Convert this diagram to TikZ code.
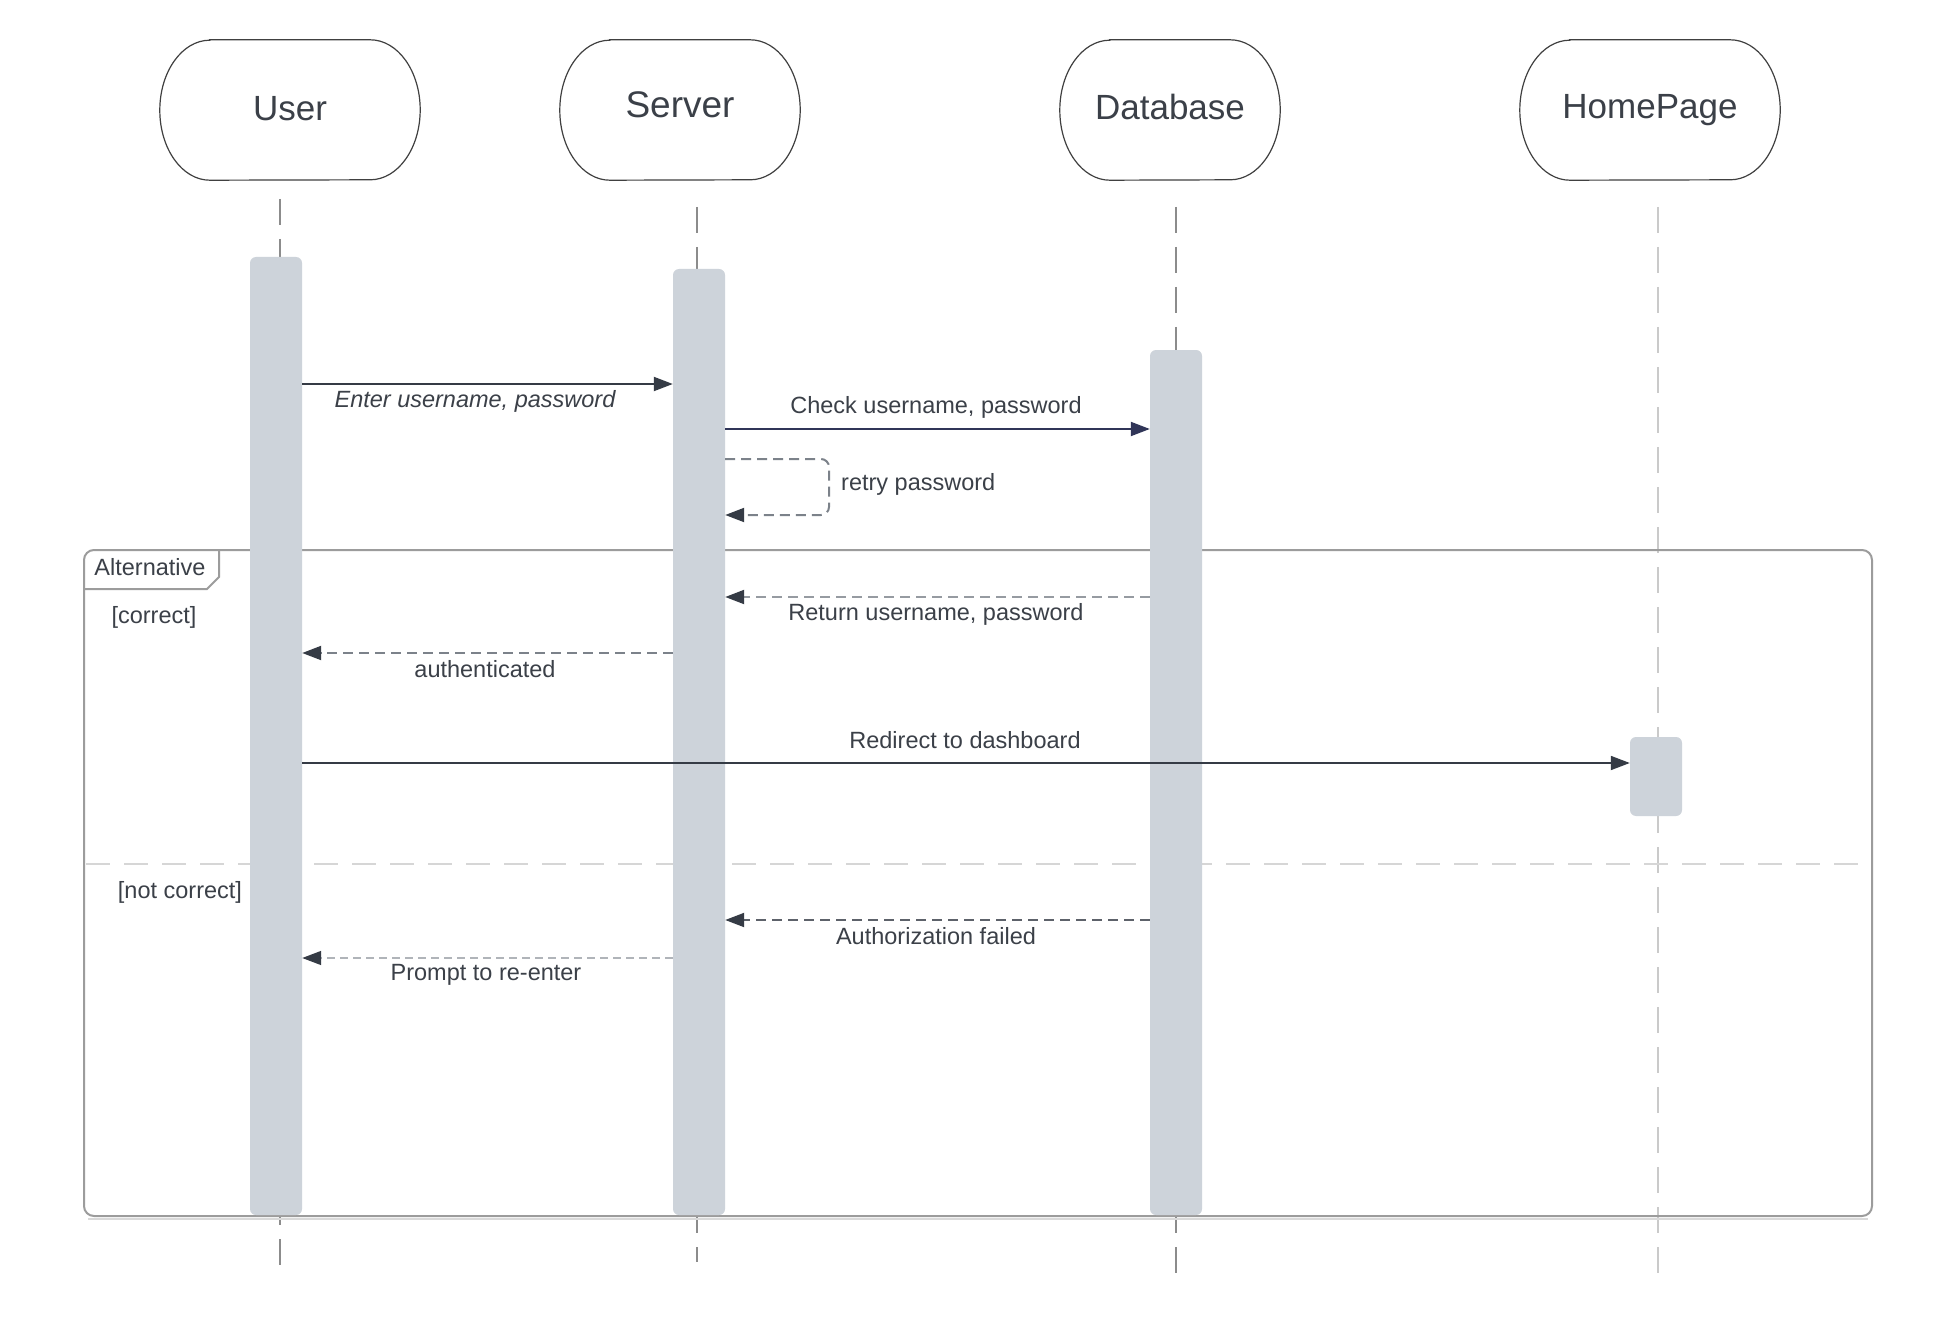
\documentclass[tikz,border=0pt]{standalone}
\usepackage{fontspec}
\setmainfont{Liberation Sans}
\usetikzlibrary{arrows.meta}
\definecolor{txt}{HTML}{3B4048}
\definecolor{barc}{HTML}{CDD3DA}
\definecolor{arrc}{HTML}{353B45}
\definecolor{dashc}{HTML}{7C828A}
\definecolor{framec}{HTML}{9C9C9C}
\definecolor{lifec}{HTML}{8C8C8C}
\definecolor{lifelight}{HTML}{CACACA}
\definecolor{divc}{HTML}{D6D6D6}
\begin{document}
\begin{tikzpicture}[x=1pt,y=-1pt,
  actor/.style={draw=none, minimum width=#1, minimum height=140pt, inner sep=0pt,
    text=txt, font=\fontsize{35}{40}\selectfont},
  actorline/.style={draw=black!75, line width=1.2pt},
  bar/.style={fill=barc, draw=none, rounded corners=6pt, minimum width=52pt, inner sep=0pt},
  lifeline/.style={draw=lifec, line width=2pt, dash pattern=on 26pt off 14pt},
  msgtxt/.style={text=txt, font=\fontsize{23.5}{27}\selectfont, inner sep=0pt},
  msg/.style={draw=arrc, line width=2pt, -{Triangle[length=19pt,width=14pt]}},
  reply/.style={draw=dashc, line width=2pt, dash pattern=on 10pt off 6pt,
    -{Triangle[length=19pt,width=14pt,color=arrc]}},
  framebox/.style={draw=framec, line width=2pt},
]
\useasboundingbox (0,0) rectangle (1960,1332);
\fill[white] (0,0) rectangle (1960,1332);

% actors
\node[actor=260pt] (user)   at (290,110) {\raisebox{4pt}{User}};
\node[actor=240pt] (server) at (680,110) {\fontsize{37}{42}\selectfont\raisebox{10pt}{Server}};
\node[actor=220pt] (db)     at (1170,110) {\raisebox{6pt}{Database}};
\node[actor=260pt] (home)   at (1650,110) {\raisebox{3pt}{HomePage}};
\foreach \n in {user,server,db,home}{
  \draw[actorline] ([xshift=50pt]\n.north west) -- ([xshift=-50pt]\n.north east)
    arc[start angle=90,end angle=-90,x radius=50pt,y radius=70pt]
    -- ([xshift=50pt]\n.south west)
    arc[start angle=270,end angle=90,x radius=50pt,y radius=70pt] -- cycle;
}

% lifelines
\coordinate (ul0) at (280,199);  \coordinate (ul1) at (280,1275);
\coordinate (sl0) at (697,207);  \coordinate (sl1) at (697,1262);
\coordinate (dl0) at (1176,207); \coordinate (dl1) at (1176,1275);
\coordinate (hl0) at (1658,207); \coordinate (hl1) at (1658,1275);
\draw[lifeline] (ul0) -- (ul1);
\draw[lifeline] (sl0) -- (sl1);
\draw[lifeline] (dl0) -- (dl1);
\draw[lifeline, draw=lifelight] (hl0) -- (hl1);

% alternative frame
\draw[framebox, rounded corners=10pt] (84,550) rectangle (1872,1216);
\draw[draw=black!15, line width=2pt, rounded corners=10pt] (88,1219) -- (1868,1219);
\draw[framebox] (219,551) -- (219,577) -- (207,589) -- (85,589);
\node[msgtxt] (alt) at (150,567) {Alternative};
\draw[draw=divc, line width=2pt, dash pattern=on 24pt off 14pt] (86,864) -- (1870,864);
\node[msgtxt] (g1) at (154,617) {[correct]};
\node[msgtxt] (g2) at (180,892) {[not correct]};

% activation bars
\node[bar, minimum height=958pt] (ubar) at (276,736) {};
\node[bar, minimum height=946pt] (sbar) at (699,742) {};
\node[bar, minimum height=865pt] (dbar) at (1176,782.5) {};
\node[bar, minimum height=79pt]  (hbar) at (1656,776.5) {};

% messages
\draw[msg] (ubar.east |- 0,384) -- (sbar.west |- 0,384);
\node[msgtxt, font=\fontsize{23.5}{27}\selectfont\itshape] (l1) at (475,401) {Enter username, password};

\draw[msg, draw=arrc!90!blue] (sbar.east |- 0,429) -- (dbar.west |- 0,429);
\node[msgtxt] (l2) at (936,407) {Check username, password};

\draw[reply, rounded corners=8pt] (sbar.east |- 0,459) -- (829,459) -- (829,515) -- (sbar.east |- 0,515);
\node[msgtxt, anchor=west] (l3) at (841,484) {retry password};

\draw[reply, draw=dashc!80] (dbar.west |- 0,597) -- (sbar.east |- 0,597);
\node[msgtxt] (l4) at (936,614) {Return username, password};

\draw[reply] (sbar.west |- 0,653) -- (ubar.east |- 0,653);
\node[msgtxt] (l5) at (485,669) {authenticated};

\draw[msg, line width=1.8pt] (ubar.east |- 0,763) -- (hbar.west |- 0,763);
\node[msgtxt] (l6) at (965,740) {Redirect to dashboard};

\draw[reply, draw=arrc!80] (dbar.west |- 0,920) -- (sbar.east |- 0,920);
\node[msgtxt] (l7) at (936,936) {Authorization failed};

\draw[reply, draw=dashc!60, line width=1.4pt, dash pattern=on 8pt off 5pt] (sbar.west |- 0,958) -- (ubar.east |- 0,958);
\node[msgtxt] (l8) at (486,975) {Prompt to re-enter};
\end{tikzpicture}
\end{document}
